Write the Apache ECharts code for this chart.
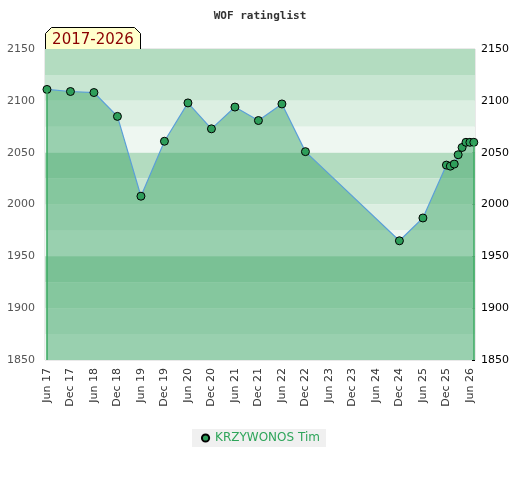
<!DOCTYPE html>
<html>
<head>
<meta charset="utf-8">
<script src="https://cdn.jsdelivr.net/npm/echarts@6/dist/echarts.min.js"></script>
<style>
  html, body { margin: 0; padding: 0; background: #fff; }
  #chart { width: 520px; height: 480px; }
</style>
</head>
<body>
<div id="chart"></div>
<script>
// rating list dates and values
const dates = ['2017-06', '2017-12', '2018-06', '2018-12', '2019-06', '2019-12',
  '2020-06', '2020-12', '2021-06', '2021-12', '2022-06', '2022-12',
  '2024-12', '2025-06', '2025-12', '2026-01', '2026-02', '2026-03',
  '2026-04', '2026-05', '2026-06', '2026-07'];
const ratings = [2111, 2109, 2108, 2085, 2008, 2061,
  2098, 2073, 2094, 2081, 2097, 2051,
  1965, 1987, 2038, 2037, 2039, 2048,
  2055, 2060, 2060, 2060];

// x tick labels, every half year
const xTickLabels = ['Jun 17', 'Dec 17', 'Jun 18', 'Dec 18', 'Jun 19', 'Dec 19',
  'Jun 20', 'Dec 20', 'Jun 21', 'Dec 21', 'Jun 22', 'Dec 22', 'Jun 23', 'Dec 23',
  'Jun 24', 'Dec 24', 'Jun 25', 'Dec 25', 'Jun 26'];
const bandEdges = [2150, 2125, 2100, 2075, 2050, 2025, 2000, 1975, 1950, 1925, 1900, 1875, 1850];
const bandColors = ['#b3dcc0', '#c8e6d2', '#dcefe2', '#eef7f1'];

// months since Jun 2017
const monthIdx = d => {
  const [y, m] = d.split('-').map(Number);
  return (y - 2017) * 12 + (m - 6);
};
const points = dates.map((d, i) => [monthIdx(d), ratings[i]]);
const xTickMonths = xTickLabels.map((l, i) => i * 6);

const bands = [];
for (let i = 0; i < bandEdges.length - 1; i++) {
  bands.push([
    { yAxis: bandEdges[i], itemStyle: { color: bandColors[i % 4] } },
    { yAxis: bandEdges[i + 1] }
  ]);
}

const first = points[0];
const last = points[points.length - 1];

const chart = echarts.init(document.getElementById('chart'));
chart.setOption({
  animation: false,
  title: {
    text: 'WOF ratinglist',
    left: 'center',
    top: 6,
    textStyle: { fontFamily: 'DejaVu Sans Mono', fontSize: 11, fontWeight: 'bold', color: '#333' }
  },
  graphic: [{
    type: 'group',
    left: 45,
    top: 27,
    children: [{
      type: 'polygon',
      shape: { points: [[0, 6], [6, 0], [89, 0], [95, 6], [95, 23], [0, 23]] },
      style: { fill: '#ffffcc', stroke: '#000', lineWidth: 1 }
    }, {
      type: 'text',
      x: 47.5,
      y: 12.5,
      style: {
        text: '2017-2026', fill: '#8b0000', fontFamily: 'DejaVu Sans', fontSize: 15,
        align: 'center', verticalAlign: 'middle'
      }
    }]
  }],
  legend: {
    bottom: 33,
    left: 'center',
    data: ['KRZYWONOS Tim'],
    backgroundColor: '#f0f0f0',
    padding: [3, 6, 3, 8],
    itemWidth: 9,
    itemHeight: 9,
    itemGap: 8,
    textStyle: { fontFamily: 'DejaVu Sans', fontSize: 12, color: '#2ea55a' }
  },
  grid: {
    left: 45, right: 45, top: 49, bottom: 120,
    show: true, borderColor: '#d4d4d4', borderWidth: 1, backgroundColor: 'transparent'
  },
  xAxis: {
    type: 'value',
    min: -0.5,
    max: 109.3,
    axisLine: { show: false },
    axisTick: { show: false },
    splitLine: { show: false },
    axisLabel: {
      customValues: xTickMonths,
      rotate: 90,
      margin: 8,
      fontFamily: 'DejaVu Sans',
      fontSize: 11,
      color: '#333',
      formatter: v => xTickLabels[Math.round(v / 6)]
    }
  },
  yAxis: [{
    type: 'value',
    min: 1850, max: 2150, interval: 50,
    axisLine: { show: false },
    axisTick: { show: false },
    splitLine: { show: false },
    axisLabel: { fontFamily: 'DejaVu Sans', fontSize: 11, color: '#555', margin: 10,
      formatter: v => String(v) }
  }, {
    type: 'value',
    position: 'right',
    min: 1850, max: 2150, interval: 50,
    axisLine: { show: false },
    axisTick: { show: true, length: 3, inside: true, lineStyle: { color: '#000' } },
    minorTick: { show: true, splitNumber: 5, length: 3, lineStyle: { color: '#000' } },
    splitLine: { show: false },
    axisLabel: { fontFamily: 'DejaVu Sans', fontSize: 11, color: '#000', margin: 6,
      formatter: v => String(v) }
  }],
  series: [{
    name: 'bands',
    type: 'line',
    data: [],
    z: 0,
    silent: true,
    markArea: { silent: true, data: bands }
  }, {
    name: 'KRZYWONOS Tim',
    type: 'line',
    z: 3,
    data: points,
    symbol: 'circle',
    symbolSize: 8,
    itemStyle: { color: '#2e9e5a', borderColor: '#000', borderWidth: 1 },
    lineStyle: { color: '#5b9fd8', width: 1.2 },
    areaStyle: { color: 'rgba(57,164,100,0.47)', opacity: 1 },
    markLine: {
      silent: true,
      symbol: 'none',
      label: { show: false },
      lineStyle: { color: '#3aa860', width: 1.5, type: 'solid' },
      data: [
        [{ coord: [first[0], 1850] }, { coord: [first[0], first[1]] }],
        [{ coord: [last[0], 1850] }, { coord: [last[0], last[1]] }]
      ]
    }
  }]
});
</script>
</body>
</html>
